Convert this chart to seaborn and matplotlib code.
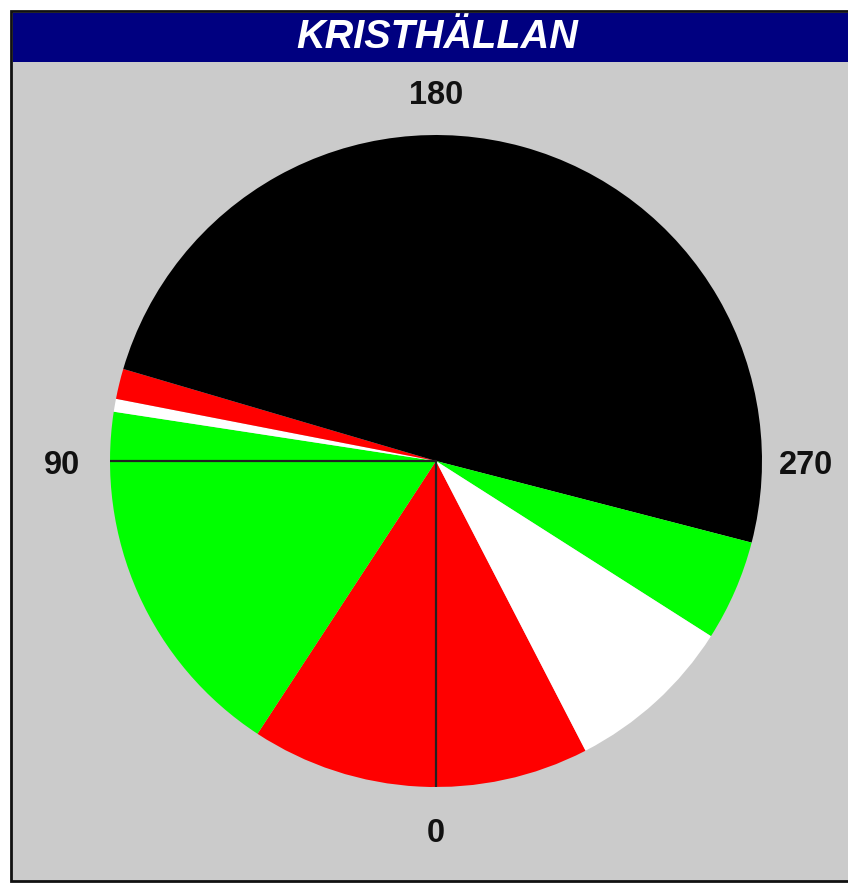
import matplotlib
matplotlib.use("Agg")
import matplotlib.pyplot as plt
import seaborn as sns
from matplotlib.patches import Rectangle

sns.set_theme(style="white")
plt.rcParams['font.family'] = ['Liberation Sans', 'DejaVu Sans']

# Sector data: clockwise from bottom (0 = down, 90 = left, 180 = up, 270 = right)
start_angle = 332.7  # compass degree where the first sector begins
sector_spans = [60.5, 65.5, 2.3, 5.4, 178.1, 18.0, 30.2]
sector_colors = ["#ff0000", "#00ff00", "#ffffff", "#ff0000", "#000000", "#00ff00", "#ffffff"]
axis_labels = ["0", "90", "180", "270"]
title = "KRISTHÄLLAN"

W, H = 848, 883
fig = plt.figure(figsize=(W / 100, H / 100), dpi=100)
fig.patch.set_facecolor("white")

# frame background and borders (figure pixel coords)
def px_rect(x0, y0, x1, y1, **kw):
    fig.add_artist(Rectangle((x0 / W, 1 - y1 / H), (x1 - x0) / W, (y1 - y0) / H,
                             transform=fig.transFigure, zorder=-5, **kw))

px_rect(11, 11, 860, 881, facecolor="#cbcbcb", edgecolor="#111111", linewidth=2)
px_rect(13, 13, 860, 62, facecolor="#000080", edgecolor="none")
fig.text(437 / W, 1 - 37 / H, title, color="white", fontsize=28.5, fontweight="bold",
         fontstyle="italic", ha="center", va="center")

# pie axes
cx, cy, r = 436, 461, 326
ax = fig.add_axes([(cx - r) / W, 1 - (cy + r) / H, 2 * r / W, 2 * r / H])
ax.set_facecolor("none")
mpl_start = (-90 - start_angle) % 360
ax.pie(sector_spans, colors=sector_colors, startangle=mpl_start, counterclock=False,
       radius=1.0, wedgeprops=dict(linewidth=0, antialiased=True))
ax.set_xlim(-1.0, 1.0)
ax.set_ylim(-1.0, 1.0)
ax.set_aspect("auto")
ax.axis("off")

# reference lines at 0 (down) and 90 (left)
ax.plot([0, 0], [0, -1], color="#222222", linewidth=1.6)
ax.plot([0, -1], [0, 0], color="#222222", linewidth=1.6)

# compass labels
lab_pos = {"0": (436, 834), "90": (62, 466), "180": (436, 96), "270": (806, 466)}
for lab in axis_labels:
    x, y = lab_pos[lab]
    fig.text(x / W, 1 - y / H, lab, fontsize=23.5, fontweight="bold", color="#111111",
             ha="center", va="center", fontstretch="condensed")

fig.savefig("out.png", dpi=100, facecolor=fig.get_facecolor())
